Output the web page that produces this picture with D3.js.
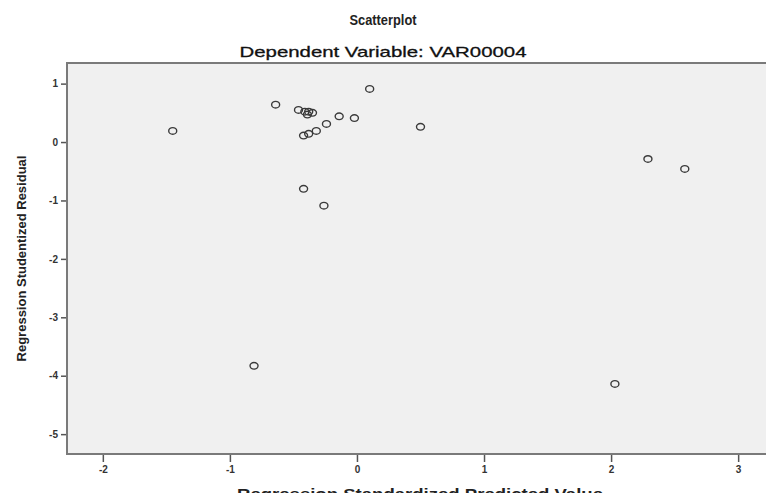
<!DOCTYPE html>
<html>
<head>
<meta charset="utf-8">
<script src="https://cdn.jsdelivr.net/npm/d3@7"></script>
<style>
  body { margin: 0; background: #fff; }
  svg { display: block; font-family: Arial, "Liberation Sans", sans-serif; }
</style>
</head>
<body>
<script>
// predicted (standardized) vs studentized residual
var predicted = [-1.45, -0.64, -0.46, -0.41, -0.38, -0.35, -0.39, -0.14, -0.02, 0.10,
                 0.50, -0.24, -0.32, -0.42, -0.38, -0.42, -0.26, -0.81, 2.03, 2.29, 2.58];
var residual  = [0.19, 0.64, 0.55, 0.52, 0.52, 0.50, 0.47, 0.44, 0.41, 0.91,
                 0.26, 0.31, 0.19, 0.11, 0.14, -0.80, -1.09, -3.83, -4.14, -0.29, -0.46];
var xTicks = [-2, -1, 0, 1, 2, 3];
var yTicks = [1, 0, -1, -2, -3, -4, -5];

var width = 766,
    height = 493;

// plot frame (right side runs off the picture)
var fLeft = 67, fTop = 63, fRight = 775, fBottom = 454;

var svg = d3.select("body").append("svg")
  .attr("width", width)
  .attr("height", height);

var x = d3.scaleLinear().domain([-2.282, 3.29]).range([fLeft, fRight]);
var y = d3.scaleLinear().domain([1.353, -5.34]).range([fTop, fBottom]);

svg.append("rect")
  .attr("x", fLeft).attr("y", fTop)
  .attr("width", fRight - fLeft).attr("height", fBottom - fTop)
  .attr("fill", "#f0f0f0")
  .attr("stroke", "#7a7a7a")
  .attr("stroke-width", 2);

// axes (plain hyphen for minus, like the original)
var fmt = function(d){ return String(d); };

var xAxis = svg.append("g")
  .attr("transform", "translate(0," + (fBottom + 1) + ")")
  .call(d3.axisBottom(x).tickValues(xTicks).tickSize(7).tickPadding(2).tickFormat(fmt));

var yAxis = svg.append("g")
  .attr("transform", "translate(" + (fLeft - 1) + ",0)")
  .call(d3.axisLeft(y).tickValues(yTicks).tickSize(5).tickPadding(3).tickFormat(fmt));

[xAxis, yAxis].forEach(function(g){
  g.select(".domain").remove();
  g.selectAll(".tick line").attr("stroke", "#555").attr("stroke-width", 1.5);
  g.selectAll(".tick text")
    .attr("fill", "#333")
    .style("font-size", "10px")
    .style("font-weight", "bold");
});
xAxis.selectAll(".tick text").attr("dy", "0.85em");

// points
svg.append("g").selectAll("ellipse")
  .data(predicted)
  .enter().append("ellipse")
  .attr("cx", function(d){ return x(d); })
  .attr("cy", function(d, i){ return y(residual[i]); })
  .attr("rx", 4)
  .attr("ry", 3.3)
  .attr("fill", "none")
  .attr("stroke", "#3a3a3a")
  .attr("stroke-width", 1.4);

// titles
svg.append("text")
  .attr("x", 383).attr("y", 25)
  .attr("text-anchor", "middle")
  .attr("textLength", 67).attr("lengthAdjust", "spacingAndGlyphs")
  .style("font-size", "14px").style("font-weight", "bold").attr("fill", "#222")
  .text("Scatterplot");

svg.append("text")
  .attr("x", 383).attr("y", 57)
  .attr("text-anchor", "middle")
  .attr("textLength", 287).attr("lengthAdjust", "spacingAndGlyphs")
  .style("font-size", "15px").attr("fill", "#111")
  .attr("stroke", "#111").attr("stroke-width", 0.3)
  .text("Dependent Variable: VAR00004");

svg.append("text")
  .attr("transform", "translate(26," + ((fTop + fBottom) / 2) + ") rotate(-90)")
  .attr("text-anchor", "middle")
  .style("font-size", "13px").style("font-weight", "bold").attr("fill", "#222")
  .text("Regression Studentized Residual");

svg.append("text")
  .attr("x", 420).attr("y", 499)
  .attr("text-anchor", "middle")
  .attr("textLength", 366).attr("lengthAdjust", "spacingAndGlyphs")
  .style("font-size", "14px").style("font-weight", "bold").attr("fill", "#222")
  .text("Regression Standardized Predicted Value");
</script>
</body>
</html>
